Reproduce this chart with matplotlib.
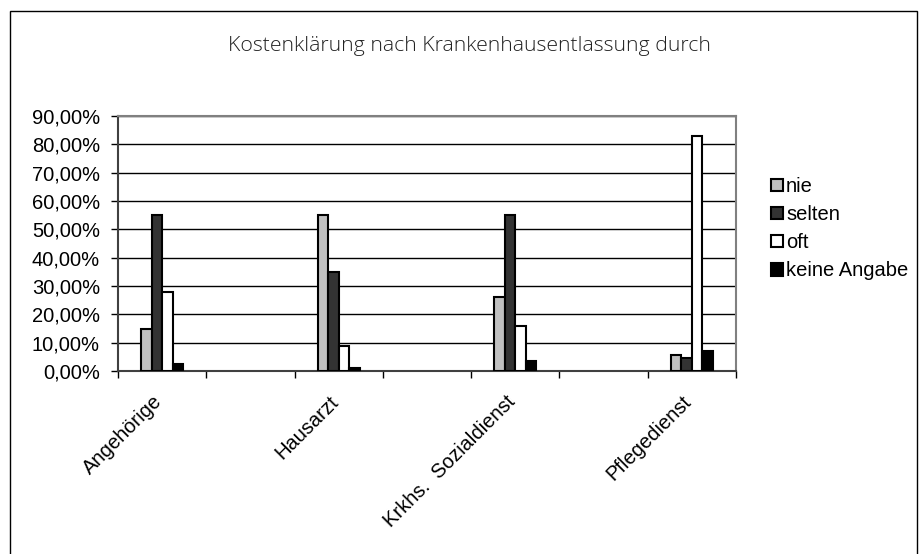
import numpy as np
import matplotlib
matplotlib.use('Agg')
import matplotlib.pyplot as plt
from matplotlib.patches import Rectangle
from matplotlib.ticker import FuncFormatter
from matplotlib.transforms import ScaledTranslation

# data
categories = ['Angehörige', '', 'Hausarzt', '', 'Krkhs.  Sozialdienst', '', 'Pflegedienst']
series = ['nie', 'selten', 'oft', 'keine Angabe']
nie = [0.147, 0, 0.55, 0, 0.26, 0, 0.058]
selten = [0.55, 0, 0.35, 0, 0.55, 0, 0.045]
oft = [0.28, 0, 0.09, 0, 0.16, 0, 0.83]
keine = [0.023, 0, 0.01, 0, 0.035, 0, 0.07]
colors = ['#c0c0c0', '#333333', '#ffffff', '#000000']
yticks = np.arange(0, 0.91, 0.1)

plt.rcParams['font.family'] = ['Liberation Sans', 'DejaVu Sans']
fs = 14.5

fig = plt.figure(figsize=(9.19, 5.54), dpi=100)
ax = fig.add_axes([118/919, 1-371/554, (736-118)/919, (371-116)/554])

x = np.arange(len(categories))
w = 0.119
values = [nie, selten, oft, keine]
for i, (vals, c, name) in enumerate(zip(values, colors, series)):
    sel = [j for j, v in enumerate(vals) if v > 0]
    ax.bar(x[sel] + (i - 1.5)*w, [vals[j] for j in sel], width=w, color=c,
           edgecolor='black', linewidth=1.5, label=name, zorder=3)

ax.set_xlim(-0.5, len(categories) - 0.5)
ax.set_ylim(0, 0.9)
ax.set_yticks(yticks)
ax.yaxis.set_major_formatter(FuncFormatter(lambda v, p: ('%.2f%%' % (v*100)).replace('.', ',')))
ax.yaxis.grid(True, color='black', linewidth=1, zorder=0)

ax.set_xticks(x)
ax.set_xticklabels(categories, rotation=45, ha='right', rotation_mode='anchor')
ax.tick_params(axis='x', which='major', length=0, pad=8, labelsize=fs)
ax.set_xticks(np.arange(-0.5, len(categories), 1), minor=True)
ax.tick_params(axis='x', which='minor', length=5, width=1, direction='out')
ax.tick_params(axis='y', length=5, width=1, direction='out', labelsize=fs, pad=8)

# shift rotated labels a bit down-left like the original
shift = ScaledTranslation(-10/100, -10/100, fig.dpi_scale_trans)
for lab in ax.get_xticklabels():
    lab.set_transform(lab.get_transform() + shift)

for s in ['left', 'bottom']:
    ax.spines[s].set_color('#404040')
    ax.spines[s].set_linewidth(1.5)
for s in ['top', 'right']:
    ax.spines[s].set_color('#808080')
    ax.spines[s].set_linewidth(1.5)

fig.text(469/919, 1-46/554, 'Kostenklärung nach Krankenhausentlassung durch',
         ha='center', va='center', fontsize=15.3, family='Open Sans', fontweight='light',
         color='#222222')

ax.legend(loc='upper left', bbox_to_anchor=(761/919, 1-167/554),
          bbox_transform=fig.transFigure, frameon=False, fontsize=fs,
          handlelength=0.6, handleheight=0.6, handletextpad=0.15, labelspacing=0.45,
          borderpad=0)

fig.patches.append(Rectangle((10/919, -0.05), 907/919, 1.05 - 11/554, transform=fig.transFigure,
                             fill=False, edgecolor='black', linewidth=1))

plt.savefig('out.png', dpi=100)
